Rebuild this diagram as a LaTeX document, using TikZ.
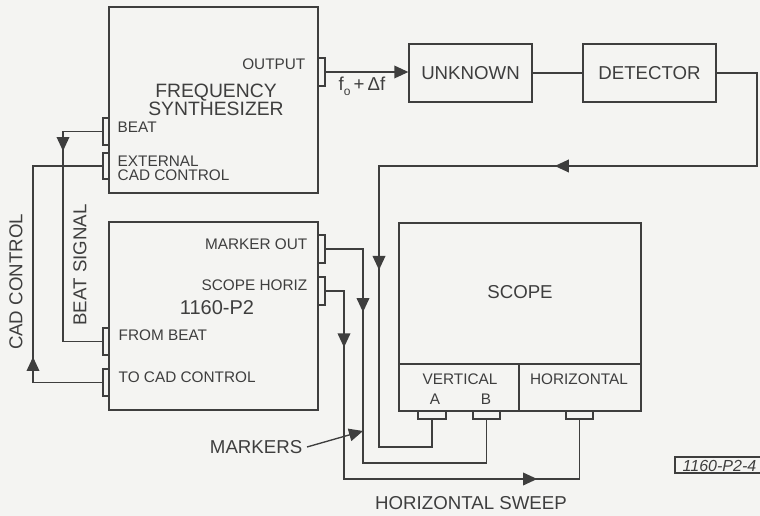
\documentclass[tikz,border=0pt]{standalone}
\usepackage{fontspec}
\setmainfont{Liberation Sans}
\usetikzlibrary{arrows.meta,calc,fit}
\definecolor{ink}{RGB}{62,62,62}
\definecolor{paper}{RGB}{244,244,242}
\begin{document}
\begin{tikzpicture}[x=0.75pt,y=-0.75pt,
  every node/.style={text=ink},
  box/.style={draw=ink, line width=1pt, inner sep=0pt},
  conn/.style={draw=ink, line width=1pt, inner sep=0pt},
  wire/.style={draw=ink, line width=1pt},
  tip/.style={-{Triangle[length=10.5pt,width=9.5pt]}, draw=ink, fill=ink, line width=1pt},
  big/.style={font=\fontsize{14}{16}\selectfont},
  small/.style={font=\fontsize{11.5}{10.5}\selectfont},
]
\fill[paper] (0,0) rectangle (760,516);
\useasboundingbox (0,0) rectangle (760,516);

% main boxes
\node[box, fit={(109,7) (318,193)}] (fs) {};
\node[box, fit={(109,222) (318,410)}] (p2) {};
\node[box, fit={(409,44) (532,102)}] (unk) {};
\node[box, fit={(583,44) (716,102)}] (det) {};
\node[box, fit={(399,223) (641,411)}] (scope) {};
\node[box, fit={(399,364) (519,411)}] (vert) {};
\node[box, fit={(519,364) (641,411)}] (horz) {};

% connectors
\node[conn, fit={(318,58) (325,86)}] (outc) {};
\node[conn, fit={(103,118) (109,145)}] (beatc) {};
\node[conn, fit={(103,153) (109,179)}] (extc) {};
\node[conn, fit={(318,235) (325,263)}] (mkc) {};
\node[conn, fit={(318,277) (325,305)}] (shc) {};
\node[conn, fit={(103,328) (109,355)}] (fbc) {};
\node[conn, fit={(103,369) (109,396)}] (tcc) {};
\node[conn, fit={(418,411) (446,419)}] (ac) {};
\node[conn, fit={(473,411) (500,419)}] (bc) {};
\node[conn, fit={(566,411) (593,419)}] (hc) {};

% texts
\node[big, align=center, font=\fontsize{14.5}{13}\selectfont] at (216,100) {FREQUENCY\\SYNTHESIZER};
\node[small, anchor=east] at (310,64) {OUTPUT};
\node[small, anchor=west] at (113,127) {BEAT};
\node[small, anchor=west, align=left] at (113,168) {EXTERNAL\\CAD CONTROL};
\node[small, anchor=east] at (312,244) {MARKER OUT};
\node[small, anchor=east] at (312,285) {SCOPE HORIZ};
\node[font=\fontsize{15}{17}\selectfont] at (217,308) {1160-P2};
\node[small, anchor=west] at (114,335) {FROM BEAT};
\node[small, anchor=west] at (114,377) {TO CAD CONTROL};
\node[big, rotate=90] at (16,282) {CAD CONTROL};
\node[big, rotate=90] at (80,265) {BEAT SIGNAL};
\node[big] at (unk.center) {UNKNOWN};
\node[big] at (det.center) {DETECTOR};
\node[big] at (520,292) {SCOPE};
\node[small] at (460,379) {VERTICAL};
\node[small] at (435,399) {A};
\node[small] at (486,399) {B};
\node[small] at (579,379) {HORIZONTAL};
\node[font=\fontsize{14}{16}\selectfont] at (362,86) {f\raisebox{-0.5ex}{\fontsize{9}{9}\selectfont o}\,+\,Δf};
\node[big, anchor=east] (mk) at (307,447) {MARKERS};
\node[big] at (471,503) {HORIZONTAL SWEEP};
\draw[ink, line width=0.8pt] (675,457) rectangle (780,473);
\node[font=\fontsize{12}{13}\selectfont\itshape, anchor=west] at (678,465.5) {1160-P2-4};

% coordinates for wires
\coordinate (rx) at (757,166);
\coordinate (dx) at (379,166);
\coordinate (dy) at (379,447);
\coordinate (mx) at (363,463);
\coordinate (sx) at (344,479);
\coordinate (bt) at (63,0);
\coordinate (ct) at (33,0);
\coordinate (mp) at (363,431);

% wires
\draw[tip] (outc.east) -- (outc.east -| unk.west);
\draw[wire] (unk.east) -- (det.west);
\draw[wire] (det.east) -| (rx) -- (dx) -- (dy) -| (ac.south);
\draw[tip] ($(rx)!0.48!(dx)$) -- ($(rx)!0.535!(dx)$);
\draw[tip] ($(dx)!0.29!(dy)$) -- ($(dx)!0.37!(dy)$);

\draw[wire] (mkc.east) -| (mx) -| (bc.south);
\coordinate (m1) at (mkc.east -| mx);
\draw[tip] ($(m1)!0.19!(mx)$) -- ($(m1)!0.295!(mx)$);

\draw[wire] (shc.east) -| (sx) -| (hc.south);
\coordinate (s1) at (shc.east -| sx);
\coordinate (s2) at (sx -| hc.south);
\draw[tip] ($(s1)!0.18!(sx)$) -- ($(s1)!0.30!(sx)$);
\draw[tip] ($(sx)!0.72!(s2)$) -- ($(sx)!0.82!(s2)$);

\draw[wire] (beatc.west) -- (beatc.west -| bt) |- (fbc.west);
\coordinate (b1) at (beatc.west -| bt);
\coordinate (b2) at (fbc.west -| bt);
\draw[tip] ($(b1)!0.0!(b2)$) -- ($(b1)!0.093!(b2)$);

\draw[wire] (tcc.west) -- (tcc.west -| ct) |- (extc.west);
\coordinate (c1) at (tcc.west -| ct);
\coordinate (c2) at (extc.west -| ct);
\draw[tip] ($(c1)!0.0!(c2)$) -- ($(c1)!0.118!(c2)$);

\draw[tip] (mk.east) -- (mp);
\end{tikzpicture}
\end{document}
